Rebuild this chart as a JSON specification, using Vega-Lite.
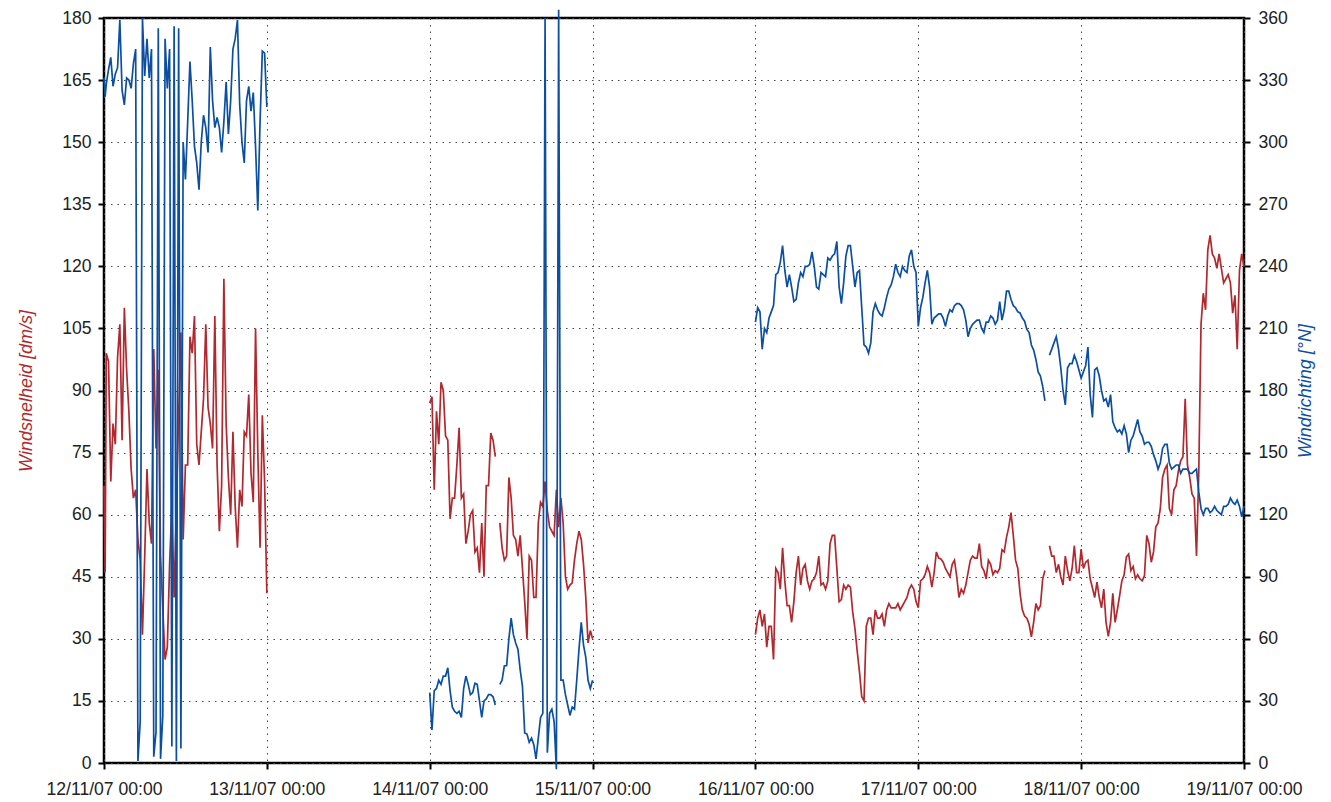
{
"$schema": "https://vega.github.io/schema/vega-lite/v6.json",
"width": 1140, "height": 745,
"autosize": {"type": "none"},
"padding": {"left": 104, "top": 18, "right": 87, "bottom": 39},
"background": "white",
"config": {
  "view": {"stroke": "#000", "strokeWidth": 2.5},
  "axis": {"labelFont": "Liberation Sans", "labelFontSize": 17.6, "labelColor": "#222", "titleFont": "Liberation Sans", "titleFontSize": 18, "titleFontStyle": "italic", "titleFontWeight": "normal", "domain": false, "tickColor": "#000", "tickWidth": 2, "tickSize": 6, "gridColor": "#444", "gridDash": [1.5, 5], "gridWidth": 1, "gridOpacity": 1}
},
"data": {"format": {"parse": {"t": "date"}}, "values": [
{"t":"2007-11-12T00:00","s":67,"d":331},
{"t":"2007-11-12T00:10","s":46,"d":322},
{"t":"2007-11-12T00:20","s":99,"d":328},
{"t":"2007-11-12T00:40","s":97,"d":335},
{"t":"2007-11-12T01:00","s":68,"d":341},
{"t":"2007-11-12T01:20","s":82,"d":327},
{"t":"2007-11-12T01:40","s":77,"d":333},
{"t":"2007-11-12T02:00","s":98,"d":336},
{"t":"2007-11-12T02:20","s":106,"d":359},
{"t":"2007-11-12T02:40","s":78,"d":325},
{"t":"2007-11-12T03:00","s":110,"d":318},
{"t":"2007-11-12T03:20","s":95,"d":331},
{"t":"2007-11-12T03:40","s":85,"d":330},
{"t":"2007-11-12T04:00","s":71,"d":326},
{"t":"2007-11-12T04:20","s":64,"d":338},
{"t":"2007-11-12T04:40","s":66,"d":345},
{"t":"2007-11-12T05:00","s":54,"d":1},
{"t":"2007-11-12T05:20","s":49,"d":20},
{"t":"2007-11-12T05:40","s":31,"d":360},
{"t":"2007-11-12T06:00","s":50,"d":332},
{"t":"2007-11-12T06:20","s":71,"d":350},
{"t":"2007-11-12T06:40","s":58,"d":331},
{"t":"2007-11-12T07:00","s":53,"d":345},
{"t":"2007-11-12T07:20","s":100,"d":3},
{"t":"2007-11-12T07:40","s":76,"d":15},
{"t":"2007-11-12T08:00","s":95,"d":355},
{"t":"2007-11-12T08:20","s":50,"d":2},
{"t":"2007-11-12T08:40","s":37,"d":23},
{"t":"2007-11-12T09:00","s":25,"d":350},
{"t":"2007-11-12T09:20","s":28,"d":326},
{"t":"2007-11-12T09:40","s":48,"d":345},
{"t":"2007-11-12T10:00","s":62,"d":8},
{"t":"2007-11-12T10:20","s":40,"d":356},
{"t":"2007-11-12T10:40","s":62,"d":1},
{"t":"2007-11-12T11:00","s":84,"d":355},
{"t":"2007-11-12T11:20","s":104,"d":7},
{"t":"2007-11-12T11:40","s":54,"d":300},
{"t":"2007-11-12T12:00","s":72,"d":282},
{"t":"2007-11-12T12:20","s":72,"d":310},
{"t":"2007-11-12T12:40","s":103,"d":339},
{"t":"2007-11-12T13:00","s":99,"d":320},
{"t":"2007-11-12T13:20","s":108,"d":298},
{"t":"2007-11-12T13:40","s":77,"d":290},
{"t":"2007-11-12T14:00","s":72,"d":277},
{"t":"2007-11-12T14:20","s":80,"d":300},
{"t":"2007-11-12T14:40","s":88,"d":313},
{"t":"2007-11-12T15:00","s":106,"d":307},
{"t":"2007-11-12T15:20","s":86,"d":295},
{"t":"2007-11-12T15:40","s":82,"d":346},
{"t":"2007-11-12T16:00","s":76,"d":320},
{"t":"2007-11-12T16:20","s":108,"d":307},
{"t":"2007-11-12T16:40","s":72,"d":312},
{"t":"2007-11-12T17:00","s":56,"d":307},
{"t":"2007-11-12T17:20","s":67,"d":295},
{"t":"2007-11-12T17:40","s":117,"d":310},
{"t":"2007-11-12T18:00","s":82,"d":329},
{"t":"2007-11-12T18:20","s":69,"d":304},
{"t":"2007-11-12T18:40","s":60,"d":320},
{"t":"2007-11-12T19:00","s":80,"d":345},
{"t":"2007-11-12T19:20","s":62,"d":350},
{"t":"2007-11-12T19:40","s":52,"d":359},
{"t":"2007-11-12T20:00","s":66,"d":318},
{"t":"2007-11-12T20:20","s":62,"d":300},
{"t":"2007-11-12T20:40","s":80,"d":290},
{"t":"2007-11-12T21:00","s":79,"d":320},
{"t":"2007-11-12T21:20","s":89,"d":327},
{"t":"2007-11-12T21:40","s":70,"d":315},
{"t":"2007-11-12T22:00","s":63,"d":324},
{"t":"2007-11-12T22:20","s":105,"d":298},
{"t":"2007-11-12T22:40","s":75,"d":267},
{"t":"2007-11-12T23:00","s":52,"d":310},
{"t":"2007-11-12T23:20","s":84,"d":344},
{"t":"2007-11-12T23:40","s":68,"d":343},
{"t":"2007-11-13T00:00","s":41,"d":317},
{"t":"2007-11-13T12:00","s":null,"d":null},
{"t":"2007-11-14T00:00","s":87,"d":34},
{"t":"2007-11-14T00:20","s":88.5,"d":16},
{"t":"2007-11-14T00:40","s":66,"d":35},
{"t":"2007-11-14T01:00","s":85,"d":36},
{"t":"2007-11-14T01:20","s":77,"d":40},
{"t":"2007-11-14T01:40","s":92,"d":38},
{"t":"2007-11-14T02:00","s":90,"d":42},
{"t":"2007-11-14T02:20","s":79,"d":42},
{"t":"2007-11-14T02:40","s":78,"d":46},
{"t":"2007-11-14T03:00","s":59,"d":35},
{"t":"2007-11-14T03:20","s":64,"d":27},
{"t":"2007-11-14T03:40","s":64,"d":25},
{"t":"2007-11-14T04:00","s":72,"d":24},
{"t":"2007-11-14T04:20","s":81,"d":25},
{"t":"2007-11-14T04:40","s":64,"d":22},
{"t":"2007-11-14T05:00","s":65,"d":36},
{"t":"2007-11-14T05:20","s":53,"d":42},
{"t":"2007-11-14T05:40","s":56,"d":38},
{"t":"2007-11-14T06:00","s":60,"d":33},
{"t":"2007-11-14T06:20","s":61,"d":34},
{"t":"2007-11-14T06:40","s":51,"d":38.5},
{"t":"2007-11-14T07:00","s":52,"d":38},
{"t":"2007-11-14T07:20","s":46,"d":30},
{"t":"2007-11-14T07:40","s":58,"d":22},
{"t":"2007-11-14T08:00","s":45,"d":30},
{"t":"2007-11-14T08:20","s":67,"d":31},
{"t":"2007-11-14T08:40","s":67,"d":33},
{"t":"2007-11-14T09:00","s":79.7,"d":33},
{"t":"2007-11-14T09:20","s":78,"d":32},
{"t":"2007-11-14T09:40","s":74,"d":28},
{"t":"2007-11-14T10:00","s":null,"d":null},
{"t":"2007-11-14T10:20","s":58,"d":38},
{"t":"2007-11-14T10:40","s":52,"d":40},
{"t":"2007-11-14T11:00","s":49,"d":47},
{"t":"2007-11-14T11:20","s":50,"d":47},
{"t":"2007-11-14T11:40","s":69,"d":60},
{"t":"2007-11-14T12:00","s":64,"d":70},
{"t":"2007-11-14T12:20","s":55,"d":62},
{"t":"2007-11-14T12:40","s":54,"d":58},
{"t":"2007-11-14T13:00","s":50,"d":55},
{"t":"2007-11-14T13:20","s":55,"d":45},
{"t":"2007-11-14T13:40","s":47,"d":37},
{"t":"2007-11-14T14:00","s":39,"d":14.5},
{"t":"2007-11-14T14:20","s":30,"d":14},
{"t":"2007-11-14T14:40","s":50,"d":10},
{"t":"2007-11-14T15:00","s":49,"d":12},
{"t":"2007-11-14T15:20","s":40,"d":9},
{"t":"2007-11-14T15:40","s":40,"d":2},
{"t":"2007-11-14T16:00","s":58,"d":12},
{"t":"2007-11-14T16:20","s":63,"d":22},
{"t":"2007-11-14T16:40","s":62,"d":24},
{"t":"2007-11-14T17:00","s":68,"d":360},
{"t":"2007-11-14T17:20","s":61,"d":5},
{"t":"2007-11-14T17:40","s":57,"d":24},
{"t":"2007-11-14T18:00","s":56,"d":26},
{"t":"2007-11-14T18:20","s":55,"d":20},
{"t":"2007-11-14T18:40","s":66,"d":-3},
{"t":"2007-11-14T19:00","s":57,"d":364},
{"t":"2007-11-14T19:20","s":64,"d":40},
{"t":"2007-11-14T19:40","s":58,"d":40},
{"t":"2007-11-14T20:00","s":45,"d":33},
{"t":"2007-11-14T20:20","s":42,"d":28},
{"t":"2007-11-14T20:40","s":43,"d":23},
{"t":"2007-11-14T21:00","s":43.5,"d":27},
{"t":"2007-11-14T21:20","s":49,"d":26},
{"t":"2007-11-14T21:40","s":53,"d":40},
{"t":"2007-11-14T22:00","s":56,"d":55},
{"t":"2007-11-14T22:20","s":54,"d":68},
{"t":"2007-11-14T22:40","s":48,"d":57},
{"t":"2007-11-14T23:00","s":40,"d":51},
{"t":"2007-11-14T23:20","s":29,"d":40},
{"t":"2007-11-14T23:40","s":32,"d":36},
{"t":"2007-11-15T00:00","s":30,"d":40},
{"t":"2007-11-15T12:00","s":null,"d":null},
{"t":"2007-11-16T00:00","s":31,"d":213},
{"t":"2007-11-16T00:20","s":35,"d":220},
{"t":"2007-11-16T00:40","s":37,"d":218},
{"t":"2007-11-16T01:00","s":33,"d":200},
{"t":"2007-11-16T01:20","s":36,"d":210},
{"t":"2007-11-16T01:40","s":28,"d":208},
{"t":"2007-11-16T02:00","s":33,"d":215},
{"t":"2007-11-16T02:20","s":33,"d":218},
{"t":"2007-11-16T02:40","s":25,"d":221},
{"t":"2007-11-16T03:00","s":47,"d":236},
{"t":"2007-11-16T03:20","s":46,"d":237},
{"t":"2007-11-16T03:40","s":42,"d":242},
{"t":"2007-11-16T04:00","s":52,"d":250},
{"t":"2007-11-16T04:20","s":44,"d":238},
{"t":"2007-11-16T04:40","s":38,"d":230},
{"t":"2007-11-16T05:00","s":38,"d":236},
{"t":"2007-11-16T05:20","s":34,"d":230},
{"t":"2007-11-16T05:40","s":39,"d":223},
{"t":"2007-11-16T06:00","s":46,"d":224},
{"t":"2007-11-16T06:20","s":50,"d":232},
{"t":"2007-11-16T06:40","s":43,"d":237},
{"t":"2007-11-16T07:00","s":47,"d":235},
{"t":"2007-11-16T07:20","s":48,"d":240},
{"t":"2007-11-16T07:40","s":44,"d":240},
{"t":"2007-11-16T08:00","s":42,"d":241},
{"t":"2007-11-16T08:20","s":44,"d":247},
{"t":"2007-11-16T08:40","s":44.5,"d":240},
{"t":"2007-11-16T09:00","s":46,"d":230},
{"t":"2007-11-16T09:20","s":50,"d":229},
{"t":"2007-11-16T09:40","s":43,"d":237},
{"t":"2007-11-16T10:00","s":43.5,"d":236},
{"t":"2007-11-16T10:20","s":42,"d":235},
{"t":"2007-11-16T10:40","s":44,"d":244},
{"t":"2007-11-16T11:00","s":53,"d":243},
{"t":"2007-11-16T11:20","s":55,"d":245},
{"t":"2007-11-16T11:40","s":55,"d":246},
{"t":"2007-11-16T12:00","s":47,"d":252},
{"t":"2007-11-16T12:20","s":39,"d":230},
{"t":"2007-11-16T12:40","s":39.5,"d":222},
{"t":"2007-11-16T13:00","s":43,"d":232},
{"t":"2007-11-16T13:20","s":42,"d":245},
{"t":"2007-11-16T13:40","s":43,"d":250},
{"t":"2007-11-16T14:00","s":42.5,"d":250},
{"t":"2007-11-16T14:20","s":36.5,"d":240},
{"t":"2007-11-16T14:40","s":32.5,"d":230},
{"t":"2007-11-16T15:00","s":27,"d":237},
{"t":"2007-11-16T15:20","s":22,"d":238},
{"t":"2007-11-16T15:40","s":16,"d":220},
{"t":"2007-11-16T16:00","s":15,"d":202},
{"t":"2007-11-16T16:20","s":33,"d":201},
{"t":"2007-11-16T16:40","s":35,"d":198},
{"t":"2007-11-16T17:00","s":35,"d":203},
{"t":"2007-11-16T17:20","s":31,"d":218},
{"t":"2007-11-16T17:40","s":37,"d":222},
{"t":"2007-11-16T18:00","s":35,"d":219},
{"t":"2007-11-16T18:20","s":35,"d":217},
{"t":"2007-11-16T18:40","s":36,"d":216},
{"t":"2007-11-16T19:00","s":33,"d":220},
{"t":"2007-11-16T19:20","s":37,"d":225},
{"t":"2007-11-16T19:40","s":38.5,"d":229},
{"t":"2007-11-16T20:00","s":37.5,"d":231},
{"t":"2007-11-16T20:20","s":37.5,"d":235},
{"t":"2007-11-16T20:40","s":37.5,"d":241},
{"t":"2007-11-16T21:00","s":38.5,"d":237},
{"t":"2007-11-16T21:20","s":37,"d":235},
{"t":"2007-11-16T21:40","s":38,"d":240},
{"t":"2007-11-16T22:00","s":39,"d":238},
{"t":"2007-11-16T22:20","s":40,"d":237},
{"t":"2007-11-16T22:40","s":42,"d":245},
{"t":"2007-11-16T23:00","s":43,"d":248},
{"t":"2007-11-16T23:20","s":42,"d":240},
{"t":"2007-11-16T23:40","s":39,"d":237},
{"t":"2007-11-17T00:00","s":37.5,"d":211},
{"t":"2007-11-17T00:20","s":44,"d":220},
{"t":"2007-11-17T00:40","s":44.5,"d":225},
{"t":"2007-11-17T01:00","s":45.5,"d":232},
{"t":"2007-11-17T01:20","s":47.5,"d":238},
{"t":"2007-11-17T01:40","s":46,"d":230},
{"t":"2007-11-17T02:00","s":42.5,"d":212},
{"t":"2007-11-17T02:20","s":46,"d":215},
{"t":"2007-11-17T02:40","s":51,"d":216},
{"t":"2007-11-17T03:00","s":49.5,"d":217},
{"t":"2007-11-17T03:20","s":49.3,"d":217},
{"t":"2007-11-17T03:40","s":48.5,"d":215},
{"t":"2007-11-17T04:00","s":47,"d":211},
{"t":"2007-11-17T04:20","s":46,"d":216},
{"t":"2007-11-17T04:40","s":45,"d":219},
{"t":"2007-11-17T05:00","s":48,"d":218},
{"t":"2007-11-17T05:20","s":49,"d":221},
{"t":"2007-11-17T05:40","s":45,"d":222},
{"t":"2007-11-17T06:00","s":40,"d":222},
{"t":"2007-11-17T06:20","s":42,"d":221},
{"t":"2007-11-17T06:40","s":41,"d":219},
{"t":"2007-11-17T07:00","s":43,"d":214},
{"t":"2007-11-17T07:20","s":46,"d":206},
{"t":"2007-11-17T07:40","s":49,"d":210},
{"t":"2007-11-17T08:00","s":50,"d":212},
{"t":"2007-11-17T08:20","s":49.5,"d":213},
{"t":"2007-11-17T08:40","s":49.5,"d":214},
{"t":"2007-11-17T09:00","s":53,"d":214},
{"t":"2007-11-17T09:20","s":47.5,"d":210},
{"t":"2007-11-17T09:40","s":46.5,"d":208},
{"t":"2007-11-17T10:00","s":44.5,"d":213},
{"t":"2007-11-17T10:20","s":49,"d":213},
{"t":"2007-11-17T10:40","s":48,"d":216},
{"t":"2007-11-17T11:00","s":45.5,"d":215},
{"t":"2007-11-17T11:20","s":46.5,"d":212},
{"t":"2007-11-17T11:40","s":46,"d":214},
{"t":"2007-11-17T12:00","s":47,"d":223},
{"t":"2007-11-17T12:20","s":51.5,"d":214},
{"t":"2007-11-17T12:40","s":51,"d":219},
{"t":"2007-11-17T13:00","s":54.5,"d":228},
{"t":"2007-11-17T13:20","s":57,"d":228},
{"t":"2007-11-17T13:40","s":60.5,"d":224},
{"t":"2007-11-17T14:00","s":55,"d":221},
{"t":"2007-11-17T14:20","s":49,"d":220},
{"t":"2007-11-17T14:40","s":47,"d":218},
{"t":"2007-11-17T15:00","s":41,"d":217.5},
{"t":"2007-11-17T15:20","s":37,"d":215},
{"t":"2007-11-17T15:40","s":35.5,"d":213.5},
{"t":"2007-11-17T16:00","s":35,"d":209.5},
{"t":"2007-11-17T16:20","s":33.5,"d":208},
{"t":"2007-11-17T16:40","s":30.5,"d":202},
{"t":"2007-11-17T17:00","s":34,"d":199.5},
{"t":"2007-11-17T17:20","s":38.5,"d":195},
{"t":"2007-11-17T17:40","s":37,"d":189},
{"t":"2007-11-17T18:00","s":38,"d":187},
{"t":"2007-11-17T18:20","s":44.5,"d":182},
{"t":"2007-11-17T18:40","s":46.5,"d":175},
{"t":"2007-11-17T19:00","s":null,"d":null},
{"t":"2007-11-17T19:20","s":52.5,"d":197},
{"t":"2007-11-17T19:40","s":50,"d":200},
{"t":"2007-11-17T20:00","s":50,"d":203},
{"t":"2007-11-17T20:20","s":46,"d":206},
{"t":"2007-11-17T20:40","s":48,"d":200},
{"t":"2007-11-17T21:00","s":45,"d":191},
{"t":"2007-11-17T21:20","s":43,"d":180},
{"t":"2007-11-17T21:40","s":50,"d":173},
{"t":"2007-11-17T22:00","s":46.5,"d":191},
{"t":"2007-11-17T22:20","s":44,"d":193},
{"t":"2007-11-17T22:40","s":47,"d":193},
{"t":"2007-11-17T23:00","s":52.5,"d":197},
{"t":"2007-11-17T23:20","s":46,"d":194},
{"t":"2007-11-17T23:40","s":46,"d":190},
{"t":"2007-11-18T00:00","s":51.7,"d":186},
{"t":"2007-11-18T00:20","s":47,"d":189},
{"t":"2007-11-18T00:40","s":48.5,"d":192},
{"t":"2007-11-18T01:00","s":49,"d":201},
{"t":"2007-11-18T01:20","s":44.5,"d":178},
{"t":"2007-11-18T01:40","s":42.3,"d":167},
{"t":"2007-11-18T02:00","s":40,"d":190},
{"t":"2007-11-18T02:20","s":43.7,"d":191},
{"t":"2007-11-18T02:40","s":40,"d":187},
{"t":"2007-11-18T03:00","s":37.5,"d":180},
{"t":"2007-11-18T03:20","s":42,"d":175},
{"t":"2007-11-18T03:40","s":34,"d":176},
{"t":"2007-11-18T04:00","s":30.6,"d":172},
{"t":"2007-11-18T04:20","s":34,"d":178},
{"t":"2007-11-18T04:40","s":41,"d":165},
{"t":"2007-11-18T05:00","s":34,"d":162},
{"t":"2007-11-18T05:20","s":37,"d":160},
{"t":"2007-11-18T05:40","s":40.4,"d":161},
{"t":"2007-11-18T06:00","s":44,"d":159},
{"t":"2007-11-18T06:20","s":45.5,"d":163},
{"t":"2007-11-18T06:40","s":49.8,"d":159},
{"t":"2007-11-18T07:00","s":50.5,"d":150},
{"t":"2007-11-18T07:20","s":46.5,"d":156},
{"t":"2007-11-18T07:40","s":47.5,"d":158},
{"t":"2007-11-18T08:00","s":44.5,"d":162},
{"t":"2007-11-18T08:20","s":45.5,"d":166},
{"t":"2007-11-18T08:40","s":44.5,"d":160},
{"t":"2007-11-18T09:00","s":44,"d":158},
{"t":"2007-11-18T09:20","s":45.3,"d":154},
{"t":"2007-11-18T09:40","s":55,"d":155},
{"t":"2007-11-18T10:00","s":53,"d":155},
{"t":"2007-11-18T10:20","s":48.5,"d":153},
{"t":"2007-11-18T10:40","s":51,"d":149},
{"t":"2007-11-18T11:00","s":57,"d":146},
{"t":"2007-11-18T11:20","s":58,"d":142},
{"t":"2007-11-18T11:40","s":61.5,"d":145},
{"t":"2007-11-18T12:00","s":69,"d":152},
{"t":"2007-11-18T12:20","s":71,"d":154},
{"t":"2007-11-18T12:40","s":72,"d":154},
{"t":"2007-11-18T13:00","s":61.5,"d":145},
{"t":"2007-11-18T13:20","s":60,"d":142},
{"t":"2007-11-18T13:40","s":66,"d":143},
{"t":"2007-11-18T14:00","s":67,"d":144},
{"t":"2007-11-18T14:20","s":70.6,"d":144},
{"t":"2007-11-18T14:40","s":73,"d":140},
{"t":"2007-11-18T15:00","s":74,"d":142},
{"t":"2007-11-18T15:20","s":88,"d":142},
{"t":"2007-11-18T15:40","s":72,"d":142},
{"t":"2007-11-18T16:00","s":69,"d":140},
{"t":"2007-11-18T16:20","s":65,"d":140},
{"t":"2007-11-18T16:40","s":64,"d":141},
{"t":"2007-11-18T17:00","s":50,"d":142},
{"t":"2007-11-18T17:20","s":70,"d":131},
{"t":"2007-11-18T17:40","s":106,"d":123},
{"t":"2007-11-18T18:00","s":113.5,"d":120},
{"t":"2007-11-18T18:20","s":109.5,"d":123},
{"t":"2007-11-18T18:40","s":124,"d":123},
{"t":"2007-11-18T19:00","s":127.5,"d":121},
{"t":"2007-11-18T19:20","s":123,"d":122},
{"t":"2007-11-18T19:40","s":122,"d":124},
{"t":"2007-11-18T20:00","s":119.5,"d":122},
{"t":"2007-11-18T20:20","s":123,"d":121},
{"t":"2007-11-18T20:40","s":119.5,"d":120},
{"t":"2007-11-18T21:00","s":116,"d":124},
{"t":"2007-11-18T21:20","s":117,"d":124},
{"t":"2007-11-18T21:40","s":118,"d":125},
{"t":"2007-11-18T22:00","s":116,"d":128},
{"t":"2007-11-18T22:20","s":108.7,"d":126},
{"t":"2007-11-18T22:40","s":113,"d":125},
{"t":"2007-11-18T23:00","s":100,"d":127},
{"t":"2007-11-18T23:20","s":119,"d":124},
{"t":"2007-11-18T23:40","s":123,"d":119},
{"t":"2007-11-19T00:00","s":120,"d":124}
]},
"layer": [
  {"mark": {"type": "line", "color": "#b1282e", "strokeWidth": 1.7, "invalid": "break-paths-filter-domains"},
   "encoding": {
     "x": {"field": "t", "type": "temporal",
       "scale": {"domain": [{"year": 2007, "month": 11, "date": 12}, {"year": 2007, "month": 11, "date": 19}]},
       "axis": {"title": null, "format": "%d/%m/%y %H:%M", "grid": true, "labelOverlap": false, "labelFlush": false, "labelBound": false, "labelPadding": 11,
         "values": [{"year": 2007, "month": 11, "date": 12}, {"year": 2007, "month": 11, "date": 13}, {"year": 2007, "month": 11, "date": 14}, {"year": 2007, "month": 11, "date": 15}, {"year": 2007, "month": 11, "date": 16}, {"year": 2007, "month": 11, "date": 17}, {"year": 2007, "month": 11, "date": 18}, {"year": 2007, "month": 11, "date": 19}]}},
     "y": {"field": "s", "type": "quantitative",
       "scale": {"domain": [0, 180], "nice": false, "zero": false},
       "axis": {"title": "Windsnelheid [dm/s]", "titleColor": "#b1282e", "titlePadding": 26, "labelPadding": 7, "grid": true,
         "values": [0, 15, 30, 45, 60, 75, 90, 105, 120, 135, 150, 165, 180]}}
   }},
  {"mark": {"type": "line", "color": "#0c4fa2", "strokeWidth": 1.7, "invalid": "break-paths-filter-domains"},
   "encoding": {
     "x": {"field": "t", "type": "temporal"},
     "y": {"field": "d", "type": "quantitative",
       "scale": {"domain": [0, 360], "nice": false, "zero": false},
       "axis": {"orient": "right", "title": "Windrichting [°N]", "titleColor": "#0c4fa2", "titleAngle": 270, "titleBaseline": "top", "titlePadding": 9, "labelPadding": 8, "grid": false,
         "values": [0, 30, 60, 90, 120, 150, 180, 210, 240, 270, 300, 330, 360]}}
   }}
],
"resolve": {"scale": {"y": "independent"}}
}
